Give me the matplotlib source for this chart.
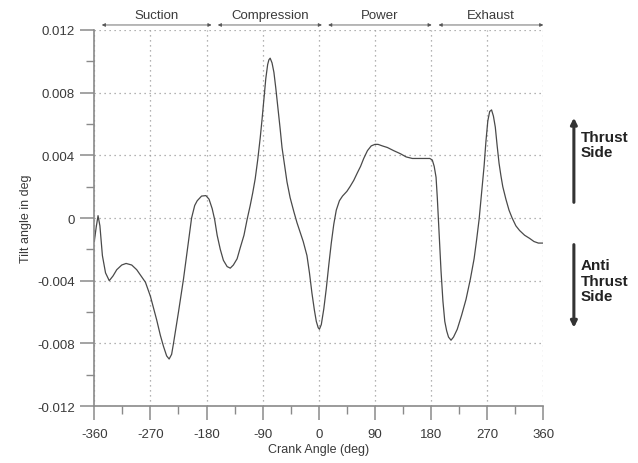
import numpy as np
import matplotlib
matplotlib.use('Agg')
import matplotlib.pyplot as plt
from matplotlib.ticker import MultipleLocator

plt.rcParams['font.family'] = ['Liberation Sans', 'DejaVu Sans']
plt.rcParams['axes.unicode_minus'] = False

# crank angle (deg) and tilt angle (deg)
crank = [
    -360, -357, -354, -351, -347, -342, -336, -330, -324, -316, -309, -300,
    -292, -285, -278, -270, -260, -254, -249, -244, -240, -236, -233, -229,
    -225, -217, -210, -204, -199, -195, -188, -181, -176, -171, -167, -163,
    -158, -153, -147, -142, -137, -131, -126, -120, -115, -110, -106, -102,
    -98, -94, -91, -88, -85, -82, -80, -78, -75, -72, -69, -66, -62, -59,
    -55, -51, -46, -40, -35, -30, -25, -19, -15, -11, -7, -4, -1, 1, 4, 8,
    12, 16, 20, 24, 28, 33, 38, 45, 50, 56, 62, 67, 72, 78, 84, 90, 95, 102,
    110, 120, 131, 140, 150, 160, 170, 178, 182, 185, 188, 190, 193, 196,
    199, 202, 205, 208, 212, 216, 222, 229, 236, 243, 249, 253, 257, 261,
    265, 268, 271, 274, 277, 280, 283, 286, 289, 292, 295, 300, 305, 310,
    316, 322, 330, 338, 345, 352, 360,
]
tilt = [
    -0.0015, -0.0006, 0.00015, -0.0005, -0.0024, -0.0035, -0.0040, -0.0037,
    -0.0033, -0.0030, -0.0029, -0.0030, -0.0033, -0.0037, -0.0041, -0.0050,
    -0.0065, -0.0075, -0.0082, -0.0088, -0.0090, -0.0087, -0.0080, -0.0070,
    -0.0060, -0.0039, -0.0018, 0.0000, 0.0008, 0.0011, 0.0014, 0.00143,
    0.0012, 0.0006, -0.0001, -0.0011, -0.0020, -0.0027, -0.0031, -0.0032,
    -0.0030, -0.0026, -0.0019, -0.0011, -0.0001, 0.0008, 0.0016, 0.0025,
    0.0037, 0.0051, 0.0063, 0.0076, 0.0089, 0.0098, 0.0101, 0.0102, 0.0099,
    0.0093, 0.0083, 0.0072, 0.0057, 0.0045, 0.0034, 0.0023, 0.0013, 0.0004,
    -0.0003, -0.0009, -0.0015, -0.0024, -0.0035, -0.0048, -0.0059, -0.0066,
    -0.0070, -0.0071, -0.0068, -0.0058, -0.0045, -0.0030, -0.0016, -0.0004,
    0.0005, 0.0011, 0.0014, 0.0017, 0.0020, 0.0024, 0.0029, 0.0033, 0.0038,
    0.0043, 0.0046, 0.0047, 0.0047, 0.0046, 0.0045, 0.0043, 0.0041, 0.0039,
    0.0038, 0.0038, 0.0038, 0.0038, 0.0037, 0.0033, 0.0026, 0.0013, -0.0011,
    -0.0034, -0.0053, -0.0066, -0.0072, -0.0076, -0.0078, -0.0076, -0.0071,
    -0.0062, -0.0052, -0.0039, -0.0026, -0.0014, -0.0001, 0.0016, 0.0033,
    0.0049, 0.0062, 0.0068, 0.0069, 0.0065, 0.0058, 0.0046, 0.0035, 0.0027,
    0.0020, 0.0012, 0.0005, 0.0000, -0.0005, -0.0008, -0.0011, -0.0013,
    -0.0015, -0.0016, -0.0016,
]

# stroke labels and their arrow spans (deg)
strokes = ['Suction', 'Compression', 'Power', 'Exhaust']
stroke_start = [-348, -162, 15, 192]
stroke_end = [-172, 5, 181, 360]

xticks = [-360, -270, -180, -90, 0, 90, 180, 270, 360]
yticks = [-0.012, -0.008, -0.004, 0, 0.004, 0.008, 0.012]
ytick_labels = ['-0.012', '-0.008', '-0.004', '0', '0.004', '0.008', '0.012']

text_c = '#3a3a3a'
spine_c = '#8a8a8a'

fig = plt.figure(figsize=(6.38, 4.64), dpi=100)
ax = fig.add_axes([0.1478, 0.1228, 0.7038, 0.8104])

ax.plot(crank, tilt, color='#4a4a4a', lw=0.9, solid_joinstyle='round')

ax.set_xlim(-360, 360)
ax.set_ylim(-0.012, 0.012)
ax.set_xticks(xticks)
ax.set_yticks(yticks)
ax.set_yticklabels(ytick_labels)
ax.xaxis.set_minor_locator(MultipleLocator(45))
ax.yaxis.set_minor_locator(MultipleLocator(0.002))

for s in ['top', 'right']:
    ax.spines[s].set_visible(False)
for s in ['left', 'bottom']:
    ax.spines[s].set_color(spine_c)
    ax.spines[s].set_linewidth(1.2)

ax.tick_params(which='major', direction='out', length=10, width=1.1,
               color=spine_c, labelsize=9.5, labelcolor=text_c, pad=4)
ax.tick_params(which='minor', direction='out', length=6, width=1.0,
               color=spine_c)
ax.tick_params(axis='x', which='major', pad=6)

ax.grid(True, which='major', linestyle=(0, (1, 3)), color='#9a9a9a', lw=0.9)
ax.set_axisbelow(True)

ax.set_xlabel('Crank Angle (deg)', fontsize=9, color=text_c, labelpad=2)
ax.set_ylabel('Tilt angle in deg', fontsize=9, color=text_c, labelpad=4)

# stroke arrows above the plot
y_arrow = 0.01232
y_text = 0.01296
for name, a, b in zip(strokes, stroke_start, stroke_end):
    ax.annotate('', xy=(a, y_arrow), xytext=(b, y_arrow),
                arrowprops=dict(arrowstyle='<|-|>', color='#555555', lw=0.6,
                                mutation_scale=5, shrinkA=0, shrinkB=0),
                annotation_clip=False)
    ax.text((a + b) / 2, y_text, name, ha='center', va='center',
            fontsize=9.5, color=text_c, clip_on=False)

# thrust side annotations on the right
arrow_kw = dict(arrowstyle='-|>', color='#333333', lw=2.2,
                mutation_scale=9, shrinkA=0, shrinkB=0)
ax.annotate('', xy=(409, 0.0064), xytext=(409, 0.001),
            annotation_clip=False, arrowprops=arrow_kw)
ax.annotate('', xy=(409, -0.0070), xytext=(409, -0.0017),
            annotation_clip=False, arrowprops=arrow_kw)
ax.text(420, 0.0047, 'Thrust\nSide', ha='left', va='center', fontsize=11,
        fontweight='bold', color='#222222', linespacing=1.15, clip_on=False)
ax.text(420, -0.0040, 'Anti\nThrust\nSide', ha='left', va='center',
        fontsize=11, fontweight='bold', color='#222222', linespacing=1.15,
        clip_on=False)

fig.savefig('out.png', dpi=100)
